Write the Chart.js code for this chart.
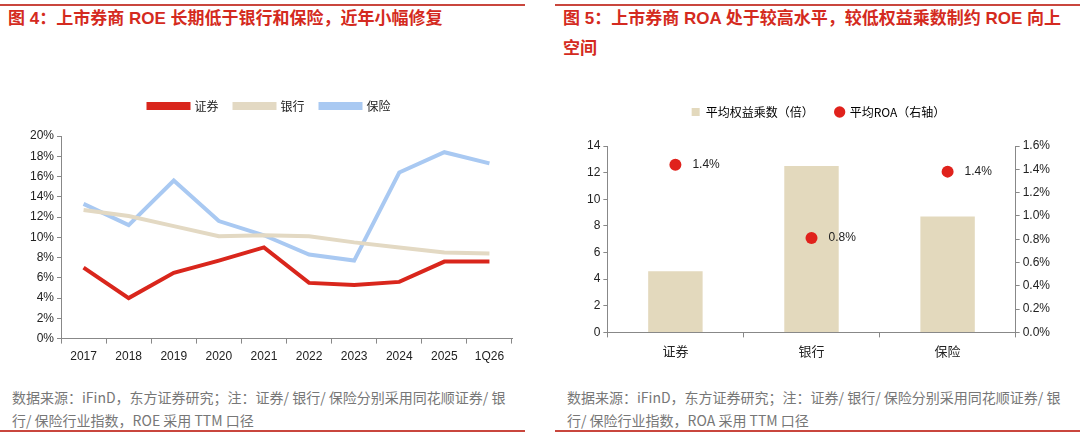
<!DOCTYPE html>
<html>
<head>
<meta charset="utf-8">
<style>
  body { margin: 0; width: 1080px; height: 436px; background: #fff; position: relative; overflow: hidden;
         font-family: "Liberation Sans", "Noto Sans CJK SC", sans-serif; }
  .rule { position: absolute; height: 2px; background: #c9463d; width: 525px; }
  .title { position: absolute; color: #d42a20; font-weight: bold; font-size: 17px; line-height: 30px;
           font-family: "Liberation Sans", "Noto Sans CJK SC", sans-serif; width: 500px; }
  .src { position: absolute; color: #777; font-size: 14px; line-height: 23px; width: 505px;
         font-family: "Noto Sans CJK SC", sans-serif; }
  .box { position: absolute; width: 515px; }
</style>
</head>
<body>
<div class="rule" style="left:0;top:4px"></div>
<div class="rule" style="left:555px;top:4px"></div>
<div class="title" style="left:8px;top:4px">图 4：上市券商 ROE 长期低于银行和保险，近年小幅修复</div>
<div class="title" style="left:563px;top:4px">图 5：上市券商 ROA 处于较高水平，较低权益乘数制约 ROE 向上空间</div>

<div class="box" style="left:5px;top:80px;height:290px"><canvas id="roeChart"></canvas></div>
<div class="box" style="left:560px;top:80px;height:285px"><canvas id="roaChart"></canvas></div>

<div class="src" style="left:12px;top:386px">数据来源：iFinD，东方证券研究；注：证券/ 银行/ 保险分别采用同花顺证券/ 银行/ 保险行业指数，ROE 采用 TTM 口径</div>
<div class="src" style="left:567px;top:386px">数据来源：iFinD，东方证券研究；注：证券/ 银行/ 保险分别采用同花顺证券/ 银行/ 保险行业指数，ROA 采用 TTM 口径</div>
<div class="rule" style="left:0;top:430px"></div>
<div class="rule" style="left:555px;top:430px"></div>

<script src="https://cdn.jsdelivr.net/npm/chart.js"></script>
<script>
// figure 4 data (ROE, %)
const years = ['2017', '2018', '2019', '2020', '2021', '2022', '2023', '2024', '2025', '1Q26'];
const roeBroker = [7.0, 4.0, 6.5, 7.7, 9.0, 5.5, 5.3, 5.6, 7.6, 7.6];
const roeBank = [12.7, 12.1, 11.1, 10.1, 10.2, 10.1, 9.5, 9.0, 8.5, 8.4];
const roeInsurance = [13.3, 11.2, 15.6, 11.6, 10.2, 8.3, 7.7, 16.4, 18.4, 17.3];

// figure 5 data
const sectors = ['证券', '银行', '保险'];
const equityMultiplier = [4.6, 12.5, 8.7];
const roaAvg = [1.44, 0.81, 1.38];

Chart.defaults.font.family = '"Liberation Sans", "Noto Sans CJK SC", sans-serif';
Chart.defaults.font.size = 12;
Chart.defaults.color = '#222';
Chart.defaults.animation = false;

const axisColor = '#888';

// push the plot area down below the legend
const legendGap = px => ({
    id: 'legendGap',
    beforeInit(chart) {
        const fit = chart.legend.fit;
        chart.legend.fit = function () { fit.bind(chart.legend)(); this.height += px; };
    }
});

new Chart(document.getElementById('roeChart'), {
    type: 'line',
    data: {
        labels: years,
        datasets: [
            { label: '证券', data: roeBroker, borderColor: '#d9261c', backgroundColor: '#d9261c' },
            { label: '银行', data: roeBank, borderColor: '#e3d9c3', backgroundColor: '#e3d9c3' },
            { label: '保险', data: roeInsurance, borderColor: '#a9c9f2', backgroundColor: '#a9c9f2' }
        ]
    },
    options: {
        responsive: true,
        maintainAspectRatio: false,
        elements: { line: { borderWidth: 4, tension: 0 }, point: { radius: 0 } },
        layout: { padding: { left: 22, right: 8, top: 4, bottom: 0 } },
        plugins: {
            legend: {
                labels: { boxWidth: 40, boxHeight: 4, padding: 16, font: { family: '"Noto Sans CJK SC", sans-serif', size: 12 } }
            },
            tooltip: { enabled: false }
        },
        scales: {
            x: {
                offset: true,
                grid: { display: true, drawOnChartArea: false, offset: true, color: axisColor, tickLength: 5 },
                border: { color: axisColor },
                ticks: { padding: 6 }
            },
            y: {
                min: 0, max: 20,
                ticks: { stepSize: 2, callback: v => v + '%' },
                grid: { drawOnChartArea: false, color: axisColor, tickLength: 4 },
                border: { color: axisColor }
            }
        }
    },
    plugins: [legendGap(14)]
});

const pointLabels = {
    id: 'pointLabels',
    afterDatasetsDraw(chart) {
        const ctx = chart.ctx;
        const meta = chart.getDatasetMeta(1);
        ctx.save();
        ctx.font = '12px "Liberation Sans", sans-serif';
        ctx.fillStyle = '#222';
        ctx.textBaseline = 'middle';
        meta.data.forEach((pt, i) => {
            ctx.fillText(roaAvg[i].toFixed(1) + '%', pt.x + 17, pt.y);
        });
        ctx.restore();
    }
};

new Chart(document.getElementById('roaChart'), {
    type: 'bar',
    data: {
        labels: sectors,
        datasets: [
            { type: 'bar', label: '平均权益乘数（倍）', data: equityMultiplier, backgroundColor: '#e3d9bd',
              yAxisID: 'y', barPercentage: 0.4, categoryPercentage: 1, order: 2 },
            { type: 'line', label: '平均ROA（右轴）', data: roaAvg, yAxisID: 'y1', showLine: false,
              pointRadius: 6, pointBackgroundColor: '#e0221c', pointBorderWidth: 0, backgroundColor: '#e0221c', order: 1 }
        ]
    },
    options: {
        responsive: true,
        maintainAspectRatio: false,
        layout: { padding: { left: 24, right: 22, top: 4, bottom: 0 } },
        plugins: {
            legend: {
                labels: { usePointStyle: true, boxWidth: 8, boxHeight: 8, padding: 22,
                          font: { family: '"Noto Sans CJK SC", sans-serif', size: 12 },
                          generateLabels(chart) {
                              return [
                                  { text: '平均权益乘数（倍）', fillStyle: '#e3d9bd', strokeStyle: '#e3d9bd', lineWidth: 0, pointStyle: 'rect', datasetIndex: 0 },
                                  { text: '平均ROA（右轴）', fillStyle: '#e0221c', strokeStyle: '#e0221c', lineWidth: 0, pointStyle: 'circle', datasetIndex: 1 }
                              ];
                          }
                },
                onClick: null
            },
            tooltip: { enabled: false }
        },
        scales: {
            x: {
                grid: { display: true, drawOnChartArea: false, offset: true, color: axisColor, tickLength: 5 },
                border: { color: axisColor },
                ticks: { padding: 6, font: { family: '"Noto Sans CJK SC", sans-serif', size: 13 } }
            },
            y: {
                min: 0, max: 14,
                ticks: { stepSize: 2 },
                grid: { drawOnChartArea: false, color: axisColor, tickLength: 4 },
                border: { color: axisColor }
            },
            y1: {
                position: 'right',
                min: 0, max: 1.6,
                ticks: { stepSize: 0.2, callback: v => v.toFixed(1) + '%' },
                grid: { drawOnChartArea: false, color: axisColor, tickLength: 4 },
                border: { color: axisColor }
            }
        }
    },
    plugins: [pointLabels, legendGap(18)]
});
</script>
</body>
</html>
